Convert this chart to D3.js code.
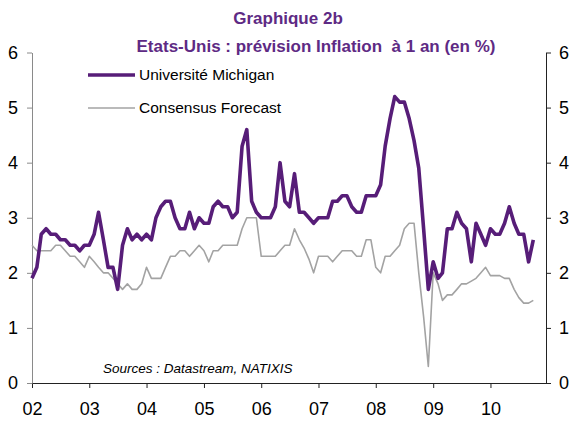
<!DOCTYPE html>
<html>
<head>
<meta charset="utf-8">
<script src="https://cdn.jsdelivr.net/npm/d3@7"></script>
<style>
  body { margin: 0; background: #fff; }
  text { font-family: "Liberation Sans", Arial, sans-serif; }
</style>
</head>
<body>
<script>
// Data: monthly, Jan 2002 .. Oct 2010

const startYear = 2002;
const yearLabels = ["02", "03", "04", "05", "06", "07", "08", "09", "10"];
const yTicks = [0, 1, 2, 3, 4, 5, 6];
const seriesNames = ["Université Michigan", "Consensus Forecast"];

const michigan = [
  1.9, 2.1, 2.7, 2.8, 2.7, 2.7, 2.6, 2.6, 2.5, 2.5, 2.4, 2.5,
  2.5, 2.7, 3.1, 2.6, 2.1, 2.1, 1.7, 2.5, 2.8, 2.6, 2.7, 2.6,
  2.7, 2.6, 3.0, 3.2, 3.3, 3.3, 3.0, 2.8, 2.8, 3.1, 2.8, 3.0,
  2.9, 2.9, 3.2, 3.3, 3.2, 3.2, 3.0, 3.1, 4.3, 4.6, 3.3, 3.1,
  3.0, 3.0, 3.0, 3.2, 4.0, 3.3, 3.2, 3.8, 3.1, 3.1, 3.0, 2.9,
  3.0, 3.0, 3.0, 3.3, 3.3, 3.4, 3.4, 3.2, 3.1, 3.1, 3.4, 3.4,
  3.4, 3.6, 4.3, 4.8, 5.2, 5.1, 5.1, 4.8, 4.4, 3.9, 2.8, 1.7,
  2.2, 1.9, 2.0, 2.8, 2.8, 3.1, 2.9, 2.8, 2.2, 2.9, 2.7, 2.5,
  2.8, 2.7, 2.7, 2.9, 3.2, 2.9, 2.7, 2.7, 2.2, 2.6
];

const consensus = [
  2.5, 2.4, 2.4, 2.4, 2.4, 2.5, 2.5, 2.4, 2.3, 2.3, 2.2, 2.1,
  2.3, 2.2, 2.1, 2.0, 2.0, 1.9, 1.8, 1.7, 1.8, 1.7, 1.7, 1.8,
  2.1, 1.9, 1.9, 1.9, 2.1, 2.3, 2.3, 2.4, 2.4, 2.3, 2.4, 2.5,
  2.4, 2.2, 2.4, 2.4, 2.5, 2.5, 2.5, 2.5, 2.8, 3.0, 3.0, 3.0,
  2.3, 2.3, 2.3, 2.3, 2.4, 2.5, 2.5, 2.8, 2.6, 2.45, 2.25, 2.0,
  2.3, 2.3, 2.3, 2.2, 2.3, 2.4, 2.4, 2.4, 2.3, 2.3, 2.6, 2.6,
  2.1, 2.0, 2.3, 2.3, 2.4, 2.5, 2.8, 2.9, 2.9, 2.0, 1.2, 0.3,
  2.0, 1.8, 1.5, 1.6, 1.6, 1.7, 1.8, 1.8, 1.85, 1.9, 2.0, 2.1,
  1.95, 1.95, 1.95, 1.9, 1.9, 1.7, 1.55, 1.45, 1.45, 1.5
];

// Set Dimensions

const width = 571;
const height = 421;
const plotLeft = 32, plotRight = 546, plotTop = 52.5, plotBottom = 383;

const purple = "#571d78";
const titlePurple = "#5e2a84";
const grey = "#a3a3a3";

const svg = d3.select("body")
  .append("svg")
  .attr("width", width)
  .attr("height", height);

// scales

const x = d3.scaleTime()
  .domain([new Date(2002, 0, 1), new Date(2010, 11, 21)])
  .range([plotLeft, plotRight]);

const y = d3.scaleLinear()
  .domain([0, 6])
  .range([plotBottom, plotTop]);

const dateOf = i => new Date(startYear, i, 1);

// axes

const yearTicks = yearLabels.map((d, i) => new Date(startYear + i, 0, 1));

const xAxis = svg.append("g")
  .attr("transform", `translate(0,${plotBottom})`)
  .call(d3.axisBottom(x)
    .tickValues(yearTicks)
    .tickFormat((d, i) => yearLabels[i])
    .tickSize(5)
    .tickPadding(14)
    .tickSizeOuter(0));
xAxis.select(".domain").attr("stroke", "#222");
xAxis.selectAll(".tick line").attr("stroke", "#222");
xAxis.selectAll("text").attr("font-size", 18).attr("fill", "#000");

const yLeft = svg.append("g")
  .attr("transform", `translate(${plotLeft},0)`)
  .call(d3.axisLeft(y).tickValues(yTicks).tickFormat(d3.format("d"))
    .tickSize(5).tickPadding(9).tickSizeOuter(0));
yLeft.select(".domain").attr("stroke", "#8a8a8a");
yLeft.selectAll(".tick line").attr("stroke", "#8a8a8a");
yLeft.selectAll("text").attr("font-size", 18).attr("fill", "#000");

const yRight = svg.append("g")
  .attr("transform", `translate(${plotRight},0)`)
  .call(d3.axisRight(y).tickValues(yTicks).tickFormat(d3.format("d"))
    .tickSize(5).tickPadding(8).tickSizeOuter(0));
yRight.select(".domain").attr("stroke", "#222");
yRight.selectAll(".tick line").attr("stroke", "#222");
yRight.selectAll("text").attr("font-size", 18).attr("fill", "#000");

// lines

const line = d3.line()
  .x((d, i) => x(dateOf(i)))
  .y(d => y(d));

svg.append("path")
  .datum(consensus)
  .attr("fill", "none")
  .attr("stroke", grey)
  .attr("stroke-width", 1.6)
  .attr("stroke-linejoin", "round")
  .attr("d", line);

svg.append("path")
  .datum(michigan)
  .attr("fill", "none")
  .attr("stroke", purple)
  .attr("stroke-width", 3.6)
  .attr("stroke-linejoin", "round")
  .attr("d", line);

// titles

svg.append("text")
  .attr("x", 288).attr("y", 24)
  .attr("text-anchor", "middle")
  .attr("font-size", 17).attr("font-weight", "bold")
  .attr("fill", titlePurple)
  .text("Graphique 2b");

svg.append("text")
  .attr("x", 316).attr("y", 52)
  .attr("text-anchor", "middle")
  .attr("font-size", 17).attr("font-weight", "bold")
  .attr("fill", titlePurple)
  .style("white-space", "pre")
  .text("Etats-Unis : prévision Inflation  à 1 an (en %)");

// legend

const legend = svg.append("g");
const legendY = [75, 108];
const legendColor = [purple, grey];
const legendWidth = [3.6, 1.6];

seriesNames.forEach((name, i) => {
  legend.append("line")
    .attr("x1", 88).attr("x2", 135)
    .attr("y1", legendY[i]).attr("y2", legendY[i])
    .attr("stroke", legendColor[i])
    .attr("stroke-width", legendWidth[i]);
  legend.append("text")
    .attr("x", 139).attr("y", legendY[i] + 5)
    .attr("font-size", 15.5)
    .attr("fill", "#000")
    .text(name);
});

// source

svg.append("text")
  .attr("x", 103).attr("y", 373)
  .attr("font-size", 13.5)
  .attr("font-style", "italic")
  .attr("fill", "#000")
  .text("Sources : Datastream, NATIXIS");
</script>
</body>
</html>
